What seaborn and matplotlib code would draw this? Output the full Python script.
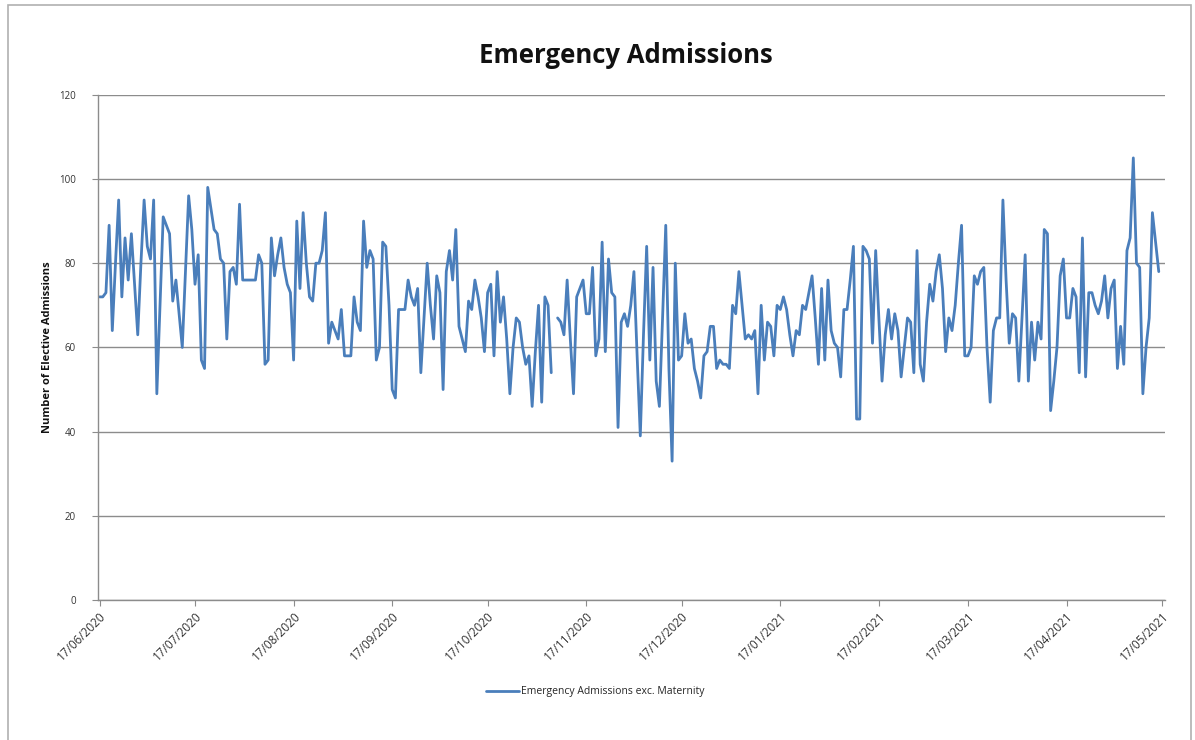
import numpy as np
import pandas as pd
import matplotlib
matplotlib.use("Agg")
import matplotlib.pyplot as plt
import matplotlib.dates as mdates
from matplotlib.lines import Line2D
from matplotlib.patches import Rectangle
import seaborn as sns

# Daily emergency admissions (excluding maternity), one value per day from 17/06/2020
jun_jul_2020 = [72, 72, 73, 89, 64, 80, 95, 72, 86, 76, 87, 75, 63, 80, 95, 84,
                81, 95, 49, 70, 91, 89, 87, 71, 76, 68, 60, 78, 96, 88, 75]
jul_aug_2020 = [82, 57, 55, 98, 93, 88, 87, 81, 80, 62, 78, 79, 75, 94, 76, 76,
                76, 76, 76, 82, 80, 56, 57, 86, 77, 82, 86, 79, 75, 73, 57]
aug_sep_2020 = [90, 74, 92, 80, 72, 71, 80, 80, 83, 92, 61, 66, 64, 62, 69, 58,
                58, 58, 72, 66, 64, 90, 79, 83, 81, 57, 60, 85, 84, 70, 50]
sep_oct_2020 = [48, 69, 69, 69, 76, 72, 70, 74, 54, 67, 80, 70, 62, 77, 73, 50,
                78, 83, 76, 88, 65, 62, 59, 71, 69, 76, 72, 67, 59, 73]
oct_nov_2020 = [75, 58, 78, 66, 72, 62, 49, 60, 67, 66, 60, 56, 58, 46, 59, 70,
                47, 72, 70, 54, np.nan, 67, 66, 63, 76, 62, 49, 72, 74, 76, 68]
nov_dec_2020 = [68, 79, 58, 62, 85, 59, 81, 73, 72, 41, 66, 68, 65, 70, 78, 58,
                39, 63, 84, 57, 79, 52, 46, 67, 89, 55, 33, 80, 57, 58]
dec_jan_2021 = [68, 61, 62, 55, 52, 48, 58, 59, 65, 65, 55, 57, 56, 56, 55, 70,
                68, 78, 70, 62, 63, 62, 64, 49, 70, 57, 66, 65, 58, 70, 69]
jan_feb_2021 = [72, 69, 63, 58, 64, 63, 70, 69, 73, 77, 67, 56, 74, 57, 76, 64,
                61, 60, 53, 69, 69, 76, 84, 43, 43, 84, 83, 81, 61, 83, 67]
feb_mar_2021 = [52, 63, 69, 62, 68, 64, 53, 60, 67, 66, 54, 83, 56, 52, 66, 75,
                71, 78, 82, 74, 59, 67, 64, 70, 80, 89, 58, 58]
mar_apr_2021 = [60, 77, 75, 78, 79, 60, 47, 64, 67, 67, 95, 76, 61, 68, 67, 52,
                67, 82, 52, 66, 57, 66, 62, 88, 87, 45, 52, 60, 77, 81, 67]
apr_may_2021 = [67, 74, 72, 54, 86, 53, 73, 73, 70, 68, 71, 77, 67, 74, 76, 55,
                65, 56, 83, 86, 105, 80, 79, 49, 60, 67, 92, 85, 78]

admissions = (jun_jul_2020 + jul_aug_2020 + aug_sep_2020 + sep_oct_2020 +
              oct_nov_2020 + nov_dec_2020 + dec_jan_2021 + jan_feb_2021 +
              feb_mar_2021 + mar_apr_2021 + apr_may_2021)

start_date = "2020-06-17"
# monthly ticks on the 17th
tick_dates = pd.date_range("2020-06-01", "2021-05-01", freq="MS") + pd.Timedelta(days=16)
series_label = "Emergency Admissions exc. Maternity"
title_text = "Emergency Admissions"
y_label = "Number of Elective Admissions"
y_ticks = [0, 20, 40, 60, 80, 100, 120]

dates = pd.date_range(start_date, periods=len(admissions), freq="D")
df = pd.DataFrame({"date": dates, "admissions": admissions})
# separate runs so the missing day shows as a break in the line
df["run"] = df["admissions"].isna().cumsum()
df = df.dropna()

sns.set_style("white")
plt.rcParams["font.family"] = ["Open Sans", "DejaVu Sans"]

fig = plt.figure(figsize=(11.95, 7.4), dpi=100)
ax = fig.add_axes([0.082, 0.189, 0.893, 0.683])

line_color = "#4A7EBB"
sns.lineplot(data=df, x="date", y="admissions", units="run", estimator=None,
             color=line_color, linewidth=2.0, ax=ax, legend=False)

ax.set_ylim(0, 120)
ax.set_yticks(y_ticks)
ax.set_yticklabels([str(v) for v in y_ticks], fontsize=7, color="#333333")
ax.set_xlim(pd.Timestamp("2020-06-17") - pd.Timedelta(hours=12),
            pd.Timestamp("2021-05-17") + pd.Timedelta(days=1))
ax.set_xticks(tick_dates)
ax.xaxis.set_major_formatter(mdates.DateFormatter("%d/%m/%Y"))
for lbl in ax.get_xticklabels():
    lbl.set_rotation(45)
    lbl.set_ha("right")
    lbl.set_rotation_mode("anchor")
    lbl.set_fontsize(8.5)
    lbl.set_color("#333333")

ax.yaxis.grid(True, color="#8c8c8c", linewidth=1.0)
ax.xaxis.grid(False)
ax.set_axisbelow(True)
for side in ["top", "right"]:
    ax.spines[side].set_visible(False)
for side in ["left", "bottom"]:
    ax.spines[side].set_color("#8c8c8c")
    ax.spines[side].set_linewidth(1.0)
ax.tick_params(axis="x", which="both", length=4, color="#8c8c8c",
               direction="out", bottom=True, pad=3)
ax.tick_params(axis="y", which="both", length=4, color="#8c8c8c",
               direction="out", left=True, pad=12)

ax.set_xlabel("")
ax.set_ylabel(y_label, fontsize=8, fontweight="bold", color="#111111", labelpad=4)

fig.text(0.524, 0.925, title_text, ha="center", va="center",
         fontsize=18.5, fontweight="bold", color="#111111")

handle = Line2D([], [], color=line_color, linewidth=2.0)
fig.legend([handle], [series_label], loc="center", bbox_to_anchor=(0.498, 0.065),
           frameon=False, fontsize=7.5, handlelength=3.2, handletextpad=0.2)

fig.patches.append(Rectangle((0.007, -0.01), 0.99, 1.003, transform=fig.transFigure,
                             fill=False, edgecolor="#b0b0b0", linewidth=1.2))

fig.savefig("out.png", dpi=100)
